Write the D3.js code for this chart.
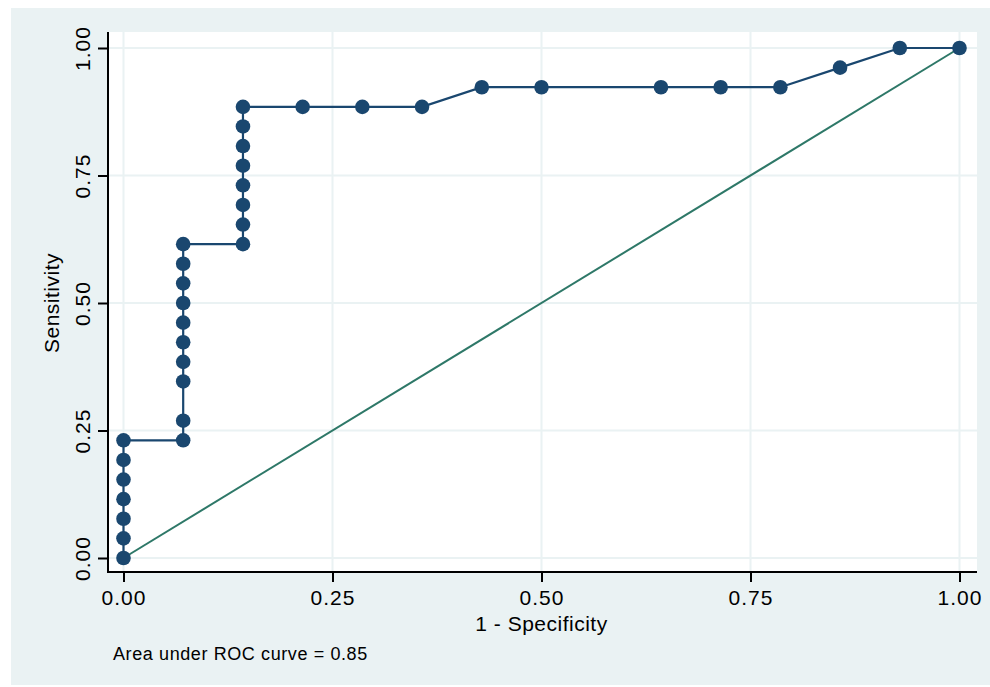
<!DOCTYPE html>
<meta charset="utf-8">
<script src="https://d3js.org/d3.v7.min.js"></script>
<style>
  body { margin: 0; background: #ffffff; }
  text { font-family: "Liberation Sans", Arial, sans-serif; fill: #000; }
</style>
<div id="my_dataviz"></div>
<script>
// ROC curve points (1 - specificity, sensitivity)
let fpr = [0, 0, 0, 0, 0, 0, 0,
  0.0714, 0.0714, 0.0714, 0.0714, 0.0714, 0.0714, 0.0714, 0.0714, 0.0714, 0.0714,
  0.1429, 0.1429, 0.1429, 0.1429, 0.1429, 0.1429, 0.1429, 0.1429,
  0.2143, 0.2857, 0.3571, 0.4286, 0.5, 0.6429, 0.7143, 0.7857, 0.8571, 0.9286, 1];
let tpr = [0, 0.0385, 0.0769, 0.1154, 0.1538, 0.1923, 0.2308,
  0.2308, 0.2692, 0.3462, 0.3846, 0.4231, 0.4615, 0.5, 0.5385, 0.5769, 0.6154,
  0.6154, 0.6538, 0.6923, 0.7308, 0.7692, 0.8077, 0.8462, 0.8846,
  0.8846, 0.8846, 0.8846, 0.9231, 0.9231, 0.9231, 0.9231, 0.9231, 0.9615, 1, 1];
let ticks = [0, 0.25, 0.5, 0.75, 1];
let aucText = "Area under ROC curve = 0.85";

let W = 990, H = 687;
let svg = d3.select("#my_dataviz").append("svg")
    .attr("width", W).attr("height", H);

// outer background
svg.append("rect").attr("x", 11).attr("y", 8)
    .attr("width", W - 11).attr("height", 677)
    .attr("fill", "#eaf2f3");

// plot region
let plot = {left: 109, right: 977, top: 32, bottom: 572};
svg.append("rect").attr("x", plot.left).attr("y", plot.top)
    .attr("width", plot.right - plot.left).attr("height", plot.bottom - plot.top)
    .attr("fill", "#ffffff");

let x = d3.scaleLinear().domain([0, 1]).range([123.5, 959.5]);
let y = d3.scaleLinear().domain([0, 1]).range([558, 48]);

// gridlines
svg.append("g").selectAll("line").data(ticks).join("line")
    .attr("x1", d => x(d)).attr("x2", d => x(d))
    .attr("y1", plot.top).attr("y2", plot.bottom)
    .attr("stroke", "#eaf2f3").attr("stroke-width", 2);
svg.append("g").selectAll("line").data(ticks).join("line")
    .attr("y1", d => y(d)).attr("y2", d => y(d))
    .attr("x1", plot.left).attr("x2", plot.right)
    .attr("stroke", "#eaf2f3").attr("stroke-width", 2);

// axes
let fmt = d3.format(".2f");
let xAxis = svg.append("g")
    .attr("transform", "translate(0," + plot.bottom + ")")
    .call(d3.axisBottom(x).tickValues(ticks).tickFormat(fmt).tickSize(10).tickSizeOuter(0).tickPadding(6));
let yAxis = svg.append("g")
    .attr("transform", "translate(" + (plot.left - 1) + ",0)")
    .call(d3.axisLeft(y).tickValues(ticks).tickFormat(fmt).tickSize(10).tickSizeOuter(0));

[xAxis, yAxis].forEach(g => {
  g.select(".domain").remove();
  g.selectAll(".tick line").attr("stroke", "#000").attr("stroke-width", 2);
  g.selectAll(".tick text").attr("font-size", 21).attr("letter-spacing", 1)
      .attr("font-family", "Liberation Sans, Arial, sans-serif").attr("fill", "#000");
});
xAxis.selectAll(".tick text").attr("y", 18).attr("dy", "0.71em");
yAxis.selectAll(".tick text")
    .attr("x", 0).attr("dy", 0)
    .attr("text-anchor", "middle")
    .attr("transform", "translate(-18,0) rotate(-90)");

// axis lines
svg.append("line").attr("x1", plot.left - 1).attr("x2", plot.left - 1)
    .attr("y1", plot.top).attr("y2", plot.bottom + 1)
    .attr("stroke", "#000").attr("stroke-width", 2);
svg.append("line").attr("x1", plot.left - 2).attr("x2", plot.right)
    .attr("y1", plot.bottom).attr("y2", plot.bottom)
    .attr("stroke", "#000").attr("stroke-width", 2);

// axis titles
svg.append("text").attr("x", (x(0) + x(1)) / 2).attr("y", 631)
    .attr("text-anchor", "middle").attr("font-size", 21).attr("letter-spacing", 0.5)
    .text("1 - Specificity");
svg.append("text")
    .attr("transform", "translate(59," + y(0.5) + ") rotate(-90)")
    .attr("text-anchor", "middle").attr("font-size", 21).attr("letter-spacing", 0.5)
    .text("Sensitivity");

// reference line
svg.append("line")
    .attr("x1", x(0)).attr("y1", y(0)).attr("x2", x(1)).attr("y2", y(1))
    .attr("stroke", "#2e7868").attr("stroke-width", 2);

// ROC curve
let data = fpr.map((d, i) => ({fx: d, sy: tpr[i]}));
svg.append("path").datum(data)
    .attr("fill", "none").attr("stroke", "#1a476f").attr("stroke-width", 2.2)
    .attr("d", d3.line().x(d => x(d.fx)).y(d => y(d.sy)));
svg.append("g").selectAll("circle").data(data).join("circle")
    .attr("cx", d => x(d.fx)).attr("cy", d => y(d.sy)).attr("r", 7.3)
    .attr("fill", "#1a476f");

// note
svg.append("text").attr("x", 113).attr("y", 660)
    .attr("font-size", 18).attr("letter-spacing", 0.6)
    .text(aucText);
</script>
